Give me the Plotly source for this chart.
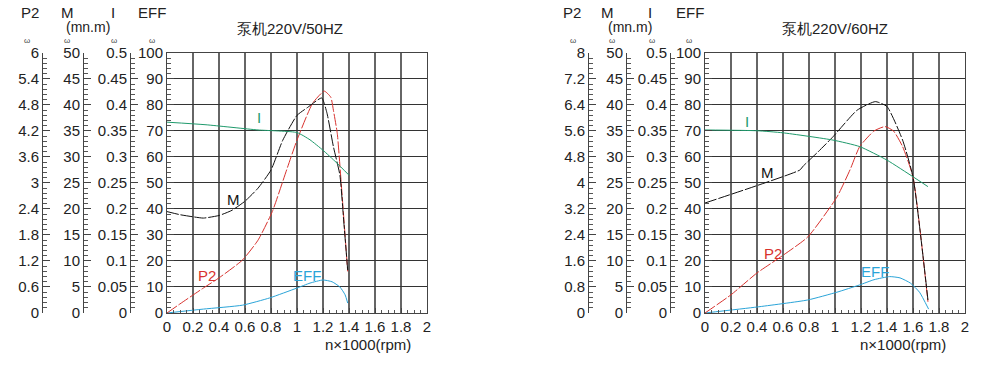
import plotly.graph_objects as go

# ---------------- data: 220V / 50Hz ----------------
x50_I = [0, 0.3, 0.7, 1.0, 1.1, 1.2, 1.3, 1.4]
I50 = [0.367, 0.362, 0.352, 0.347, 0.333, 0.313, 0.29, 0.265]

x50_M = [0, 0.1, 0.2, 0.28, 0.4, 0.5, 0.6, 0.7, 0.8, 0.89, 1.0, 1.08, 1.19, 1.23, 1.28, 1.33, 1.36, 1.39]
M50 = [19.5, 18.9, 18.5, 18.25, 18.75, 19.75, 21.5, 24, 27.5, 33.2, 38.0, 39.5, 41.35, 38.5, 32, 26.5, 17.5, 8.25]

x50_P = [0, 0.1, 0.28, 0.4, 0.58, 0.7, 0.81, 0.92, 1.0, 1.12, 1.21, 1.26, 1.28, 1.31, 1.34, 1.39]
P50 = [0, 0.21, 0.576, 0.81, 1.22, 1.68, 2.34, 3.3, 3.99, 4.84, 5.12, 4.98, 4.68, 4.14, 3.0, 0.96]

x50_E = [0, 0.28, 0.58, 0.79, 1.0, 1.1, 1.2, 1.27, 1.33, 1.37, 1.39]
E50 = [0, 1.5, 3, 5.8, 9.6, 11.5, 12.7, 12, 10, 7, 3.8]

# ---------------- data: 220V / 60Hz ----------------
x60_I = [0, 0.4, 0.6, 0.985, 1.19, 1.4, 1.6, 1.715]
I60 = [0.352, 0.3505, 0.3465, 0.3325, 0.32, 0.294, 0.262, 0.243]

x60_M = [0, 0.4, 0.73, 0.755, 0.87, 0.985, 1.17, 1.31, 1.4, 1.52, 1.6, 1.715]
M60 = [21.15, 24.5, 27.5, 28.25, 31, 33.9, 39, 40.65, 39.7, 33.25, 26.15, 2.5]

x60_P = [0, 0.2, 0.4, 0.58, 0.79, 1.015, 1.115, 1.19, 1.3, 1.385, 1.45, 1.52, 1.6, 1.715]
P60 = [0, 0.56, 1.232, 1.72, 2.336, 3.568, 4.4, 5.12, 5.6, 5.736, 5.6, 5.12, 4.184, 0.344]

x60_E = [0, 0.4, 0.79, 1.015, 1.19, 1.3, 1.42, 1.5, 1.58, 1.65, 1.72]
E60 = [0, 2.3, 5, 8, 10.8, 12.8, 14, 13.5, 11.5, 8, 1.5]

titles = ["泵机220V/50HZ", "泵机220V/60HZ"]
axis_headers = ["P2", "M", "I", "EFF"]
x_title = "n×1000(rpm)"

C_I = "#1f9a6c"
C_M = "#111111"
C_P = "#d8322e"
C_E = "#2aa4d8"
FONT = "Liberation Sans, Arial, sans-serif"
TICKC = "#222222"

fig = go.Figure()

def add_set(xI, I, xM, M, xP, P, xE, E, xa, yE, yP, yM, yI):
    fig.add_trace(go.Scatter(x=xI, y=I, xaxis=xa, yaxis=yI, mode="lines",
                             line=dict(color=C_I, width=1, shape="spline", smoothing=0.5), showlegend=False))
    fig.add_trace(go.Scatter(x=xM, y=M, xaxis=xa, yaxis=yM, mode="lines",
                             line=dict(color=C_M, width=1, dash="12px,2px", shape="spline", smoothing=0.5),
                             showlegend=False))
    fig.add_trace(go.Scatter(x=xP, y=P, xaxis=xa, yaxis=yP, mode="lines",
                             line=dict(color=C_P, width=1, dash="12px,2px", shape="spline", smoothing=0.5),
                             showlegend=False))
    fig.add_trace(go.Scatter(x=xE, y=E, xaxis=xa, yaxis=yE, mode="lines",
                             line=dict(color=C_E, width=1, shape="spline", smoothing=0.5), showlegend=False))

add_set(x50_I, I50, x50_M, M50, x50_P, P50, x50_E, E50, "x", "y", "y2", "y3", "y4")
add_set(x60_I, I60, x60_M, M60, x60_P, P60, x60_E, E60, "x2", "y5", "y6", "y7", "y8")

ydom = [0.1425, 0.8548]
tickfont = dict(family=FONT, size=15, color=TICKC)

def yax(rng, dt, anchor=None, overlay=None, position=None, grid=False):
    d = dict(range=rng, dtick=dt, tick0=0, domain=ydom, showgrid=grid,
             gridcolor="#333333", gridwidth=1, zeroline=False, automargin=False,
             showline=True, linecolor="#444444", linewidth=1,
             ticks="inside", ticklen=7, tickcolor="#444444", side="left",
             tickfont=tickfont,
             minor=dict(dtick=dt / 5, ticks="inside", ticklen=4, tickcolor="#555555", showgrid=False))
    if overlay:
        d.update(overlaying=overlay, anchor="free", position=position)
    else:
        d.update(anchor=anchor, mirror=True)
    return d

def xax(dom, anchor):
    return dict(domain=dom, anchor=anchor, range=[0, 2], dtick=0.2, tick0=0, automargin=False,
                showgrid=True, gridcolor="#666666", gridwidth=1.5, zeroline=False,
                showline=True, linecolor="#444444", linewidth=1, mirror=True,
                ticks="inside", ticklen=5, tickcolor="#444444", tickfont=tickfont,
                minor=dict(dtick=0.05, ticks="inside", ticklen=3, tickcolor="#555555", showgrid=False))

fig.update_layout(
    width=1000, height=365, margin=dict(l=0, r=0, t=0, b=0, autoexpand=False),
    paper_bgcolor="white", plot_bgcolor="white",
    font=dict(family=FONT, color=TICKC),
    xaxis=xax([0.167, 0.427], "y"),
    xaxis2=xax([0.705, 0.965], "y5"),
    yaxis=yax([0, 100], 10, anchor="x", grid=True),
    yaxis2=yax([0, 6], 0.6, overlay="y", position=0.042),
    yaxis3=yax([0, 50], 5, overlay="y", position=0.083),
    yaxis4=yax([0, 0.5], 0.05, overlay="y", position=0.130),
    yaxis5=yax([0, 100], 10, anchor="x2", grid=True),
    yaxis6=yax([0, 8], 0.8, overlay="y5", position=0.588),
    yaxis7=yax([0, 50], 5, overlay="y5", position=0.626),
    yaxis8=yax([0, 0.5], 0.05, overlay="y5", position=0.670),
)

ann = []
def txt(x, y, s, size=15, color=TICKC, xref="paper", yref="paper", xanchor="center", yanchor="middle"):
    ann.append(dict(x=x, y=y, text=s, xref=xref, yref=yref, showarrow=False,
                    xanchor=xanchor, yanchor=yanchor, font=dict(family=FONT, size=size, color=color)))

def py(p):  # pixel y -> paper
    return 1 - p / 365.0

# headers
for hx, omx, mnx, tx, ttl, xt_right in [
    ([30, 67, 113, 152], [27, 67, 114, 152], 88, 290, titles[0], 413),
    ([572, 607, 650, 690], [573, 612, 652, 689], 630, 835, titles[1], 948),
]:
    for h, xx in zip(axis_headers, hx):
        txt(xx / 1000, py(13), h)
    for xx in omx:
        txt(xx / 1000, py(40.5), "ω", size=8, color="#444444")
    txt(mnx / 1000, py(27), "(mn.m)", size=14)
    txt(tx / 1000, py(28), ttl, size=15)
    txt(xt_right / 1000, py(344), x_title, xanchor="right")

# curve labels (data coords on EFF scale)
for xr, yr, labs in [
    ("x", "y", [(0.71, 75, "I", C_I), (0.51, 43.5, "M", C_M), (0.31, 14.6, "P2", C_P), (1.08, 14.6, "EFF", C_E)]),
    ("x2", "y5", [(0.32, 73.5, "I", C_I), (0.48, 54, "M", C_M), (0.52, 23, "P2", C_P), (1.31, 15.8, "EFF", C_E)]),
]:
    for lx, ly, s, c in labs:
        txt(lx, ly, s, size=15, color=c, xref=xr, yref=yr)

fig.update_layout(annotations=ann)
fig.write_html("out.html", config={"displayModeBar": False},
               post_script="document.body.style.margin='0';document.body.style.overflow='hidden';")
